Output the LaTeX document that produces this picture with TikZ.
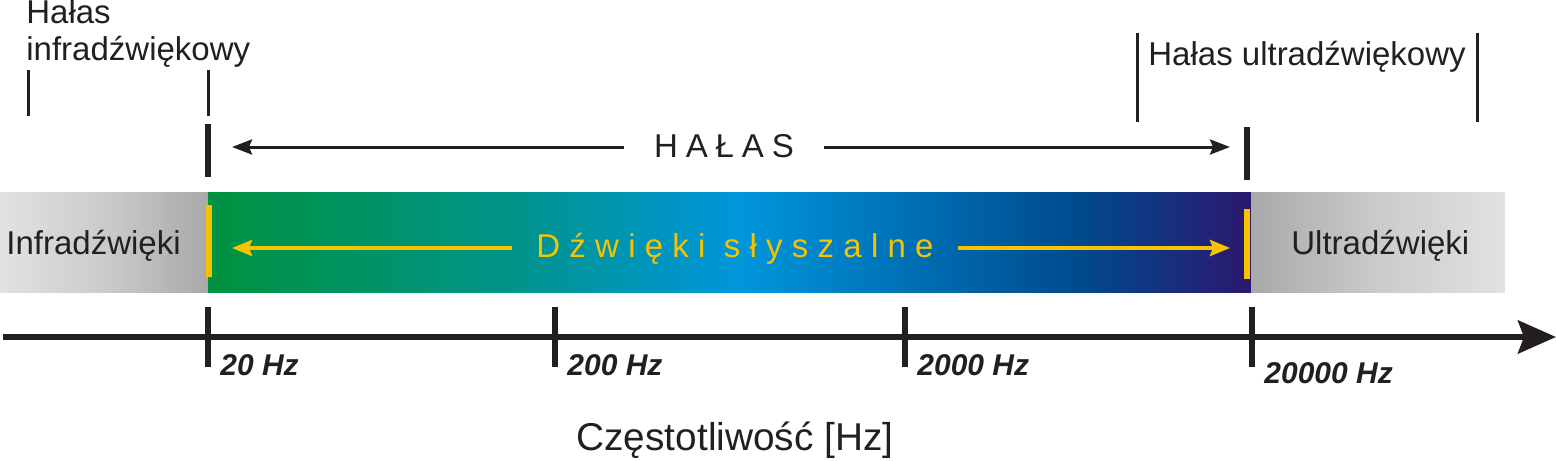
\documentclass[tikz,border=0pt]{standalone}
\usepackage{fontspec}
\setmainfont{Liberation Sans}
\usepackage{tikz}
\usetikzlibrary{arrows.meta}
\usepackage{xcolor}

\definecolor{inkBlack}{HTML}{231F20}
\definecolor{audYellow}{HTML}{F7C300}
\definecolor{audGreen}{HTML}{00923F}
\definecolor{audTeal}{HTML}{009486}
\definecolor{audSky}{HTML}{0096DB}
\definecolor{audNavy}{HTML}{004A8D}
\definecolor{audIndigo}{HTML}{2C176E}
\definecolor{greyLight}{HTML}{E2E2E2}
\definecolor{greyMid}{HTML}{CBCBCB}
\definecolor{greyDark}{HTML}{A9A9A9}

\pgfdeclarehorizontalshading{audibleShade}{100bp}{color(0bp)=(audGreen); color(25bp)=(audGreen); color(39bp)=(audTeal); color(50.5bp)=(audSky); color(66.75bp)=(audNavy); color(75bp)=(audIndigo); color(100bp)=(audIndigo)}
\pgfdeclarehorizontalshading{infraShade}{100bp}{color(0bp)=(greyLight); color(25bp)=(greyLight); color(50bp)=(greyMid); color(75bp)=(greyDark); color(100bp)=(greyDark)}
\pgfdeclarehorizontalshading{ultraShade}{100bp}{color(0bp)=(greyDark); color(25bp)=(greyDark); color(50bp)=(greyMid); color(75bp)=(greyLight); color(100bp)=(greyLight)}

\begin{document}
\begin{tikzpicture}[x=0.5pt,y=-0.5pt,
    every node/.style={inner sep=0pt,text=inkBlack,font=\fontsize{16.5}{18.5}\selectfont},
    thinmark/.style={draw=inkBlack,line width=1.5pt},
    boundmark/.style={draw=inkBlack,line width=3pt},
    goldmark/.style={draw=audYellow,line width=2.6pt},
    noisearrow/.style={draw=inkBlack,line width=1.5pt,-{Stealth[length=10pt,width=7.5pt,inset=1.5pt]}},
    goldarrow/.style={draw=audYellow,line width=2pt,-{Stealth[length=10pt,width=8pt,inset=1.5pt]}},
    axisline/.style={draw=inkBlack,line width=3pt,-{Stealth[length=19pt,width=16.5pt,inset=3pt]}},
    freqlabel/.style={anchor=base west,font=\fontsize{15}{17}\selectfont\bfseries\itshape}]
        \useasboundingbox (0,0) rectangle (1556,460);

        % frequency bands
        \shade[shading=infraShade] (0,192) rectangle (208,292);
        \shade[shading=audibleShade] (208,192) rectangle (1251,292);
        \shade[shading=ultraShade] (1251,192) rectangle (1505,292);

        \node[anchor=base west] (infra) at (6,254) {Infradźwięki};
        \node[anchor=base west] (ultra) at (1291,254) {Ultradźwięki};

        % noise ranges at the top
        \node[anchor=base west,align=left] (infraNoise) at (26,61) {Hałas\\infradźwiękowy};
        \node[anchor=base west] (ultraNoise) at (1148,66) {Hałas ultradźwiękowy};

        \draw[thinmark] (28,70) -- (28,116);
        \draw[thinmark] (208,70) -- (208,116);
        \draw[thinmark] (1137,33) -- (1137,122);
        \draw[thinmark] (1477,33) -- (1477,122);

        % noise arrow
        \coordinate (noiseL) at (232,147);
        \coordinate (noiseR) at (1230,147);
        \draw[boundmark] (208,124) -- (208,177);
        \draw[boundmark] (1247,127) -- (1247,180);
        \node[anchor=base,inner xsep=15pt,font=\fontsize{16.5}{18.5}\selectfont\addfontfeature{LetterSpace=24}] (noise) at (724,157) {HAŁAS};
        \draw[noisearrow] (noise.west |- noiseL) -- (noiseL);
        \draw[noisearrow] (noise.east |- noiseR) -- (noiseR);

        % audible arrow
        \coordinate (audL) at (232,248);
        \coordinate (audR) at (1230,248);
        \draw[goldmark] (209,205) -- (209,277);
        \draw[goldmark] (1247,209) -- (1247,279);
        \node[anchor=base,inner xsep=12pt,text=audYellow,font=\fontsize{16.5}{18.5}\selectfont\addfontfeature{LetterSpace=28}] (audible) at (735,257) {Dźwięki słyszalne};
        \draw[goldarrow] (audible.west |- audL) -- (audL);
        \draw[goldarrow] (audible.east |- audR) -- (audR);

        % frequency axis
        \coordinate (axisStart) at (3,337);
        \coordinate (axisEnd) at (1556,337);
        \draw[axisline] (axisStart) -- (axisEnd);
        \foreach \x/\y/\lab [count=\i] in {208/375/20 Hz, 555/375/200 Hz, 905/375/2000 Hz, 1252/383/20000 Hz} {
            \coordinate (tick\i) at (\x,307);
            \draw[inkBlack,line width=2.6pt] (tick\i) -- ++(0,60);
            \node[freqlabel] (freq\i) at (\x+12,\y) {\lab};
        }

        \node[anchor=base,font=\fontsize{19.4}{21}\selectfont] (axisTitle) at (735,450) {Częstotliwość [Hz]};
    \end{tikzpicture}
\end{document}
